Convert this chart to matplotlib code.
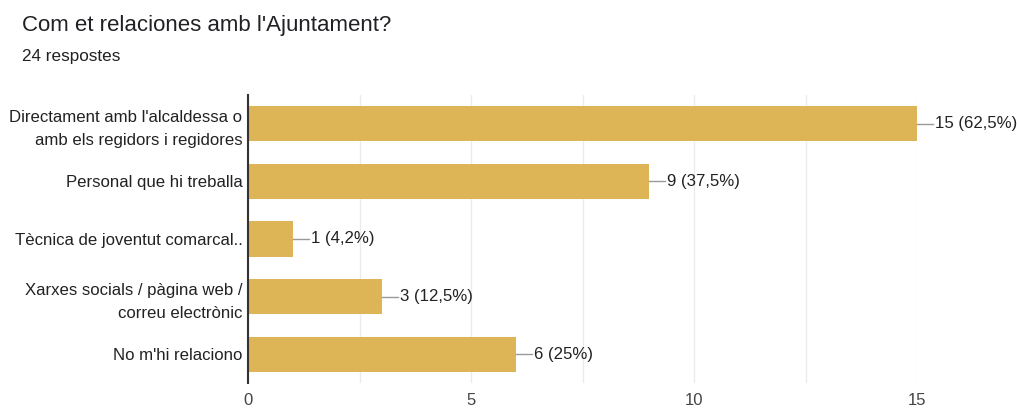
import matplotlib
matplotlib.use("Agg")
import matplotlib.pyplot as plt
import numpy as np

categories = [
    "Directament amb l'alcaldessa o\namb els regidors i regidores",
    "Personal que hi treballa",
    "Tècnica de joventut comarcal..",
    "Xarxes socials / pàgina web /\ncorreu electrònic",
    "No m'hi relaciono",
]
counts = [15, 9, 1, 3, 6]
value_labels = ["15 (62,5%)", "9 (37,5%)", "1 (4,2%)", "3 (12,5%)", "6 (25%)"]
x_ticks = [0, 5, 10, 15]

plt.rcParams['font.family'] = ['Liberation Sans', 'DejaVu Sans']

fig = plt.figure(figsize=(10.17, 4.08), dpi=100)
ax = fig.add_axes([248/1017, 1-383/408, (917-248)/1017, (383-95)/408])

y = np.arange(len(categories))
ax.barh(y, counts, height=0.61, color='#DDB557', zorder=3)
ax.set_ylim(len(categories)-0.5, -0.5)
ax.set_xlim(0, 15)
ax.set_yticks(y)
ax.set_yticklabels(categories, fontsize=12.1, color='#222222', linespacing=1.65)
ax.set_xticks(x_ticks)
ax.set_xticklabels([str(t) for t in x_ticks], fontsize=12, color='#444444')
ax.set_xticks(np.arange(0, 15.1, 2.5), minor=True)
ax.grid(axis='x', which='both', color='#EBEBEB', linewidth=1, zorder=0)
ax.tick_params(axis='both', which='both', length=0)
ax.tick_params(axis='x', pad=7)
ax.tick_params(axis='y', pad=4)
for s in ['top', 'right', 'bottom']:
    ax.spines[s].set_visible(False)
ax.spines['left'].set_color('#333333')
ax.spines['left'].set_linewidth(1.5)
ax.spines['left'].set_zorder(4)

px = 15/(917-248)
for yi, c, lab in zip(y, counts, value_labels):
    ax.plot([c, c + 16*px], [yi, yi], color='#999999', linewidth=1, zorder=4, clip_on=False)
    ax.text(c + 18*px, yi, lab, va='center', ha='left', fontsize=12.1, color='#222222', clip_on=False)

fig.text(22/1017, 1-26/408, "Com et relaciones amb l'Ajuntament?", fontsize=16, color='#202124', va='center', ha='left')
fig.text(22/1017, 1-57/408, "24 respostes", fontsize=12.3, color='#202124', va='center', ha='left')

fig.savefig('out.png', dpi=100, facecolor='white')
